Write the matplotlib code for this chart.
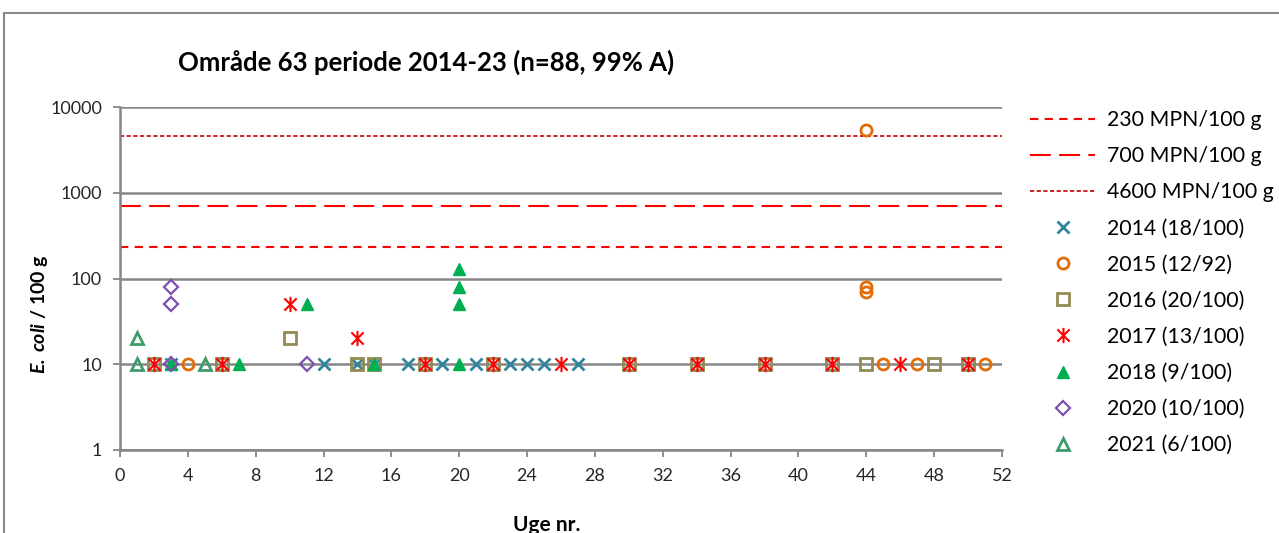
import numpy as np
import matplotlib
matplotlib.use('Agg')
import matplotlib.pyplot as plt
from matplotlib.path import Path
from matplotlib.lines import Line2D

plt.rcParams['font.family'] = ['Lato', 'DejaVu Sans']
plt.rcParams['mathtext.fontset'] = 'custom'
plt.rcParams['mathtext.bfit'] = 'Lato:italic:bold'
plt.rcParams['mathtext.bf'] = 'Lato:bold'
plt.rcParams['mathtext.rm'] = 'Lato'

# threshold lines
limit_values = [230, 700, 4600]
limit_labels = ['230 MPN/100 g', '700 MPN/100 g', '4600 MPN/100 g']

# samples per year: (week, E. coli per 100 g)
weeks_2014 = [3, 12, 14, 15, 17, 19, 21, 23, 24, 25, 27]
vals_2014 = [10, 10, 10, 10, 10, 10, 10, 10, 10, 10, 10]

weeks_2015 = [4, 44, 44, 44, 45, 47, 51]
vals_2015 = [10, 5400, 80, 70, 10, 10, 10]

weeks_2016 = [2, 6, 10, 14, 15, 18, 22, 30, 34, 38, 42, 44, 48, 50]
vals_2016 = [10, 10, 20, 10, 10, 10, 10, 10, 10, 10, 10, 10, 10, 10]

weeks_2017 = [2, 6, 10, 14, 18, 22, 26, 30, 34, 38, 42, 46, 50]
vals_2017 = [10, 10, 50, 20, 10, 10, 10, 10, 10, 10, 10, 10, 10]

weeks_2018 = [3, 7, 11, 15, 20, 20, 20, 20]
vals_2018 = [10, 10, 50, 10, 130, 80, 50, 10]

weeks_2020 = [3, 3, 3, 11]
vals_2020 = [80, 50, 10, 10]

weeks_2021 = [1, 1, 5]
vals_2021 = [20, 10, 10]

year_labels = ['2014 (18/100)', '2015 (12/92)', '2016 (20/100)', '2017 (13/100)',
               '2018 (9/100)', '2020 (10/100)', '2021 (6/100)']

# excel style asterisk: X plus vertical bar
star = Path([(-1, -1), (1, 1), (-1, 1), (1, -1), (0, -1.25), (0, 1.25)],
            [Path.MOVETO, Path.LINETO, Path.MOVETO, Path.LINETO, Path.MOVETO, Path.LINETO])

W, H = 1279, 533
fig = plt.figure(figsize=(W / 100, H / 100), dpi=100)
ax = fig.add_axes([120 / W, 1 - 450 / H, 882 / W, 343 / H])

grey = '#868686'
ax.set_yscale('log')
ax.set_xlim(0, 52)
ax.set_ylim(1, 10000)
ax.yaxis.grid(True, color=grey, lw=1.8)
ax.set_axisbelow(True)

lim_styles = [dict(color='#FF0000', lw=1.5, dashes=(4, 3)),
              dict(color='#FF0000', lw=1.5, dashes=(10, 4)),
              dict(color='#C00000', lw=1.2, dashes=(2.5, 1.5))]
handles = []
for v, lab, st in zip(limit_values, limit_labels, lim_styles):
    h, = ax.plot([0, 52], [v, v], label=lab, **st)
    handles.append(h)

series = [
    (weeks_2014, vals_2014, dict(marker='x', color='#31849B', mfc='none', ms=9, mew=2)),
    (weeks_2015, vals_2015, dict(marker='o', color='#E36C09', mfc='none', ms=8, mew=2)),
    (weeks_2016, vals_2016, dict(marker='s', color='#948A54', mfc='none', ms=8, mew=2)),
    (weeks_2017, vals_2017, dict(marker=star, color='#FF0000', mfc='none', ms=11, mew=1.5)),
    (weeks_2018, vals_2018, dict(marker='^', color='#00B050', mfc='#00B050', ms=9, mew=1)),
    (weeks_2020, vals_2020, dict(marker='D', color='#7F4FAD', mfc='none', ms=7, mew=1.6)),
    (weeks_2021, vals_2021, dict(marker='^', color='#3D9C6A', mfc='none', ms=9, mew=2)),
]
for (wk, vals, st), lab in zip(series, year_labels):
    h, = ax.plot(wk, vals, ls='none', label=lab, clip_on=False, **st)
    handles.append(h)

ax.set_xticks(np.arange(0, 53, 4))
ax.set_yticks([1, 10, 100, 1000, 10000])
ax.set_yticklabels(['1', '10', '100', '1000', '10000'])
ax.minorticks_off()
for s in ['top', 'right']:
    ax.spines[s].set_visible(False)
for s in ['left', 'bottom']:
    ax.spines[s].set_color(grey)
    ax.spines[s].set_linewidth(1.8)
ax.tick_params(colors=grey, width=1.3, length=5, labelsize=13, labelcolor='#262626', pad=8)

fig.text(178 / W, 1 - 62 / H, 'Område 63 periode 2014-23 (n=88, 99% A)',
         fontsize=18.5, fontweight='bold', va='center', ha='left', color='#000000')
fig.text(39 / W, 1 - 314 / H, r'$\bfit{E.\,coli}$ / 100 g', rotation=90,
         fontsize=14, fontweight='bold', va='center', ha='center')
fig.text(547 / W, 1 - 525 / H, 'Uge nr.', fontsize=15, fontweight='bold',
         va='center', ha='center')

fig.legend(handles=handles, loc='upper left', bbox_to_anchor=(1030 / W, 1 - 110 / H),
           frameon=False, fontsize=15.3, handlelength=3.06, handletextpad=0.56,
           labelspacing=0.76, borderpad=0, borderaxespad=0)

# outer chart border
fig.add_artist(Line2D([4 / W, 4 / W], [0, 1 - 13 / H], color='#898989', lw=1.5))
fig.add_artist(Line2D([4 / W, 1], [1 - 13 / H, 1 - 13 / H], color='#898989', lw=1.5))

fig.savefig('out.png', dpi=100)
